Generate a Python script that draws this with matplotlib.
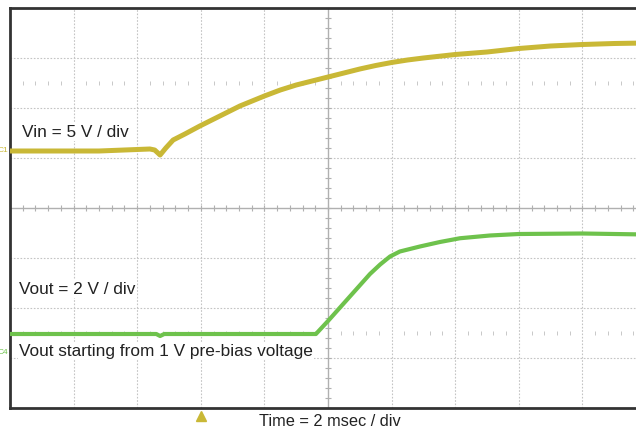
import numpy as np
import matplotlib.pyplot as plt

plt.rcParams['font.family'] = ['Liberation Sans', 'DejaVu Sans']

# time axis in ms (2 ms/div, 10 div), trigger at center
vin_t = [-10, -7.2, -6.0, -5.6, -5.45, -5.28, -5.1, -4.87, -4.5, -4.03, -3.4, -2.77,
         -2.0, -1.5, -1.0, -0.5, 0, 0.5, 1, 1.5, 2, 2.5, 3, 4, 5, 6, 7, 8, 9, 10]
vin_v = [-0.1, -0.1, 0.05, 0.1, 0.0, -0.5, 0.2, 1.0, 1.6, 2.4, 3.4, 4.4,
         5.4, 6.0, 6.5, 6.9, 7.3, 7.7, 8.1, 8.45, 8.75, 9.0, 9.2, 9.55, 9.8, 10.15, 10.4, 10.55, 10.65, 10.7]

vout_t = [-10, -5.4, -5.28, -5.15, -0.38, 0, 1.32, 1.64, 1.95, 2.26, 2.89, 3.52, 4.15,
          5.09, 6.0, 8.0, 10]
vout_v = [0.72, 0.72, 0.64, 0.72, 0.72, 1.24, 3.12, 3.5, 3.82, 4.02, 4.22, 4.4, 4.55,
          4.66, 4.72, 4.74, 4.7]

# channel settings: ground position (div), V/div
vin_pos, vin_scale = 5.16, 5.0
vout_pos, vout_scale = 1.12, 2.0

yellow = '#c9b836'
green = '#6ec24c'

fig = plt.figure(figsize=(6.36, 4.27), dpi=100)
ax = fig.add_axes([10/636, 18/427, 1.0, 400/427])
ax.set_xlim(-10, 10)
ax.set_ylim(0, 8)
ax.set_xticks([])
ax.set_yticks([])
for s in ax.spines.values():
    s.set_color('#333333')
    s.set_linewidth(2)

# graticule
for gx in np.arange(-8, 10, 2):
    if gx != 0:
        ax.axvline(gx, color='#c4c4c4', lw=0.8, ls=(0, (1.5, 1.5)), zorder=1)
for gy in range(1, 8):
    if gy != 4:
        ax.axhline(gy, color='#c4c4c4', lw=0.8, ls=(0, (1.5, 1.5)), zorder=1)
ax.axvline(0, color='#b0b0b0', lw=1, zorder=1)
ax.axhline(4, color='#b0b0b0', lw=1, zorder=1)

minor_x = np.arange(-10, 10.01, 0.4)
minor_y = np.arange(0, 8.01, 0.2)
ax.plot(minor_x, np.full(len(minor_x), 4), ls='none', marker='|', ms=5, mew=0.8, color='#b0b0b0', zorder=1)
ax.plot(np.zeros(len(minor_y)), minor_y, ls='none', marker='_', ms=5, mew=0.8, color='#b0b0b0', zorder=1)
dots_x = [x for x in minor_x if abs(x / 2 - round(x / 2)) > 0.01]
for ry in (1.5, 6.5):
    ax.plot(dots_x, np.full(len(dots_x), ry), ls='none', marker='|', ms=3, mew=0.7, color='#c8c8c8', zorder=1)

# traces
vin_y = vin_pos + np.array(vin_v) / vin_scale
vout_y = vout_pos + np.array(vout_v) / vout_scale
ax.plot(vin_t, vin_y, color=yellow, lw=3.6, solid_joinstyle='round', zorder=3)
ax.plot(vout_t, vout_y, color=green, lw=3.0, solid_joinstyle='round', zorder=3)

# channel markers and trigger
ax.annotate('C1', xy=(0, vin_pos), xycoords=('axes fraction', 'data'), xytext=(-1.5, 0),
            textcoords='offset points', ha='right', va='center', fontsize=6, color=yellow,
            annotation_clip=False)
ax.annotate('C4', xy=(0, vout_pos), xycoords=('axes fraction', 'data'), xytext=(-1.5, 0),
            textcoords='offset points', ha='right', va='center', fontsize=6, color=green,
            annotation_clip=False)
ax.plot([-4.0], [-0.15], marker='^', ms=7, color=yellow, clip_on=False, zorder=4)

# labels
box = dict(facecolor='white', edgecolor='none', pad=1)
ax.text(-9.62, 5.52, 'Vin = 5 V / div', fontsize=12.4, color='#222222', va='center', bbox=box, zorder=5)
ax.text(-9.72, 2.38, 'Vout = 2 V / div', fontsize=12.4, color='#222222', va='center', bbox=box, zorder=5)
ax.text(-9.72, 1.15, 'Vout starting from 1 V pre-bias voltage', fontsize=12.4, color='#222222',
        va='center', bbox=box, zorder=5)
ax.text(0.05, -0.25, 'Time = 2 msec / div', fontsize=11.8, color='#222222', ha='center',
        va='center', clip_on=False)

fig.savefig('out.png', dpi=100)
